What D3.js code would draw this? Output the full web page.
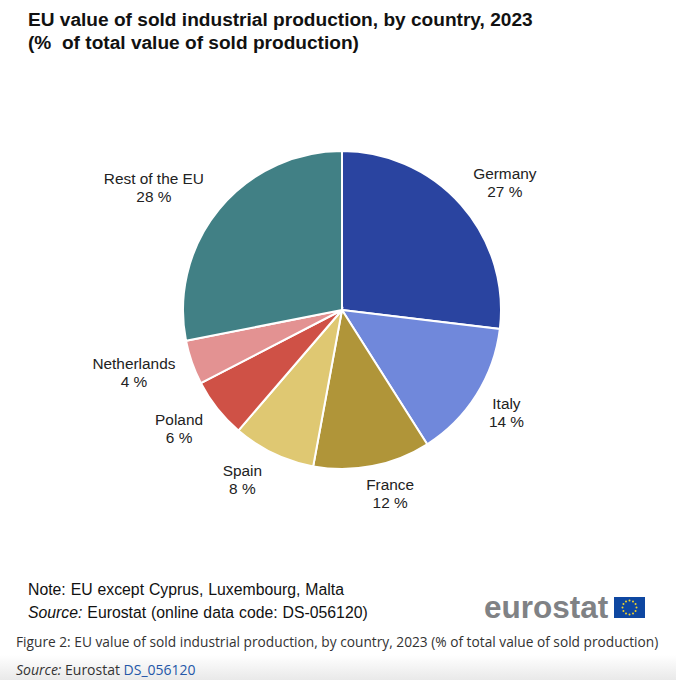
<!DOCTYPE html>
<html><head><meta charset="utf-8">
<script src="https://cdn.jsdelivr.net/npm/d3@7"></script>
<style>html,body{margin:0;padding:0;background:#fff}svg{display:block}text{white-space:pre}</style>
</head><body><svg id="c" width="676" height="680"></svg>
<script>
const categories=["Germany","Italy","France","Spain","Poland","Netherlands","Rest of the EU"];
const values=[26.9,14.1,11.9,8.4,6.1,4.5,28.1];
const shown=["27 %","14 %","12 %","8 %","6 %","4 %","28 %"];
const colors=["#2A44A0","#7088DB","#B09539","#DFC872","#CF5146","#E39292","#418085"];
const svg=d3.select("#c");
const A="Liberation Sans, Arial, sans-serif";
const defs=svg.append("defs");
const gr=defs.append("linearGradient").attr("id","fade").attr("x1",0).attr("x2",0).attr("y1",0).attr("y2",1);
gr.append("stop").attr("offset",0).attr("stop-color","#fff");
gr.append("stop").attr("offset",1).attr("stop-color","#e9e9e9");
svg.append("rect").attr("width",676).attr("height",680).attr("fill","#fff");
svg.append("rect").attr("y",655).attr("width",676).attr("height",25).attr("fill","url(#fade)");
const title=["EU value of sold industrial production, by country, 2023","(%  of total value of sold production)"];
svg.selectAll(".t").data(title).join("text").attr("x",28).attr("y",(d,i)=>26+i*23)
 .attr("font-family",A).attr("font-weight","bold").attr("font-size",19.1).attr("fill","#111").text(d=>d);
const pie=d3.pie().sort(null).value(d=>d)(values);
const arc=d3.arc().innerRadius(0).outerRadius(159);
const g=svg.append("g").attr("transform","translate(342,310)");
g.selectAll("path").data(pie).join("path").attr("d",arc).attr("fill",(d,i)=>colors[i]).attr("stroke","#fff").attr("stroke-width",2);
const labelArc=d3.arc().innerRadius(195).outerRadius(195);
const nudge=[[17,1.5],[-0.5,-1.5],[11,-8.5],[-15.5,-7],[-10,-3],[-24,-2.5],[-37.5,1]];
const lab=g.selectAll(".l").data(pie).join("text").attr("text-anchor","middle").attr("font-family",A).attr("font-size",15.4).attr("fill","#222");
lab.each(function(d,i){
 const c=labelArc.centroid(d);const x=c[0]+nudge[i][0],y=c[1]+nudge[i][1];const s=d3.select(this);
 s.append("tspan").attr("x",x).attr("y",y-3).text(categories[i]);
 s.append("tspan").attr("x",x).attr("y",y+15).text(shown[i]);
});
svg.append("text").attr("x",28).attr("y",595).attr("font-family",A).attr("font-size",15.8).attr("word-spacing",0.5).attr("fill","#111").text("Note: EU except Cyprus, Luxembourg, Malta");
const src=svg.append("text").attr("x",28).attr("y",618).attr("font-family",A).attr("font-size",15.8).attr("word-spacing",0.5).attr("fill","#111");
src.append("tspan").attr("font-style","italic").text("Source:");
src.append("tspan").text(" Eurostat (online data code: DS-056120)");
svg.append("text").attr("x",484).attr("y",618).attr("font-family",A).attr("font-weight","bold").attr("font-size",31.5).attr("fill","#808285").text("eurostat");
const fx=d3.scaleLinear().domain([0,1]).range([614,645]);
const fy=d3.scaleLinear().domain([0,1]).range([597,618]);
svg.append("rect").attr("x",fx(0)).attr("y",fy(0)).attr("width",fx(1)-fx(0)).attr("height",fy(1)-fy(0)).attr("fill","#0e47a1");
d3.range(12).forEach(i=>{const a=i/12*2*Math.PI;svg.append("circle").attr("cx",fx(.5)+7*Math.cos(a)).attr("cy",fy(.5)+7*Math.sin(a)).attr("r",1).attr("fill","#f5d327");});
svg.append("text").attr("x",16).attr("y",647).attr("font-family","Open Sans").attr("font-size",13.73).attr("fill","#333").text("Figure 2: EU value of sold industrial production, by country, 2023 (% of total value of sold production)");
const s2=svg.append("text").attr("x",16).attr("y",675).attr("font-family","Open Sans").attr("font-size",14).attr("fill","#333");
s2.append("tspan").attr("font-style","italic").text("Source:");
s2.append("tspan").text(" Eurostat ");
s2.append("tspan").attr("fill","#2457a8").text("DS_056120");
</script></body></html>
